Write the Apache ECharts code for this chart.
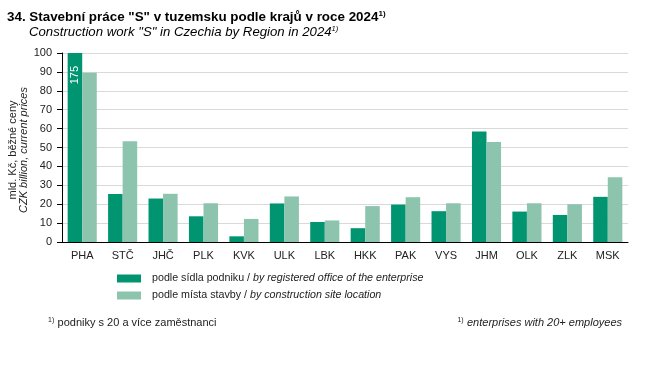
<!DOCTYPE html>
<html><head><meta charset="utf-8">
<script src="https://cdn.jsdelivr.net/npm/echarts@6/dist/echarts.min.js"></script>
<style>html,body{margin:0;padding:0;background:#fff}#c{width:652px;height:374px}</style>
</head><body><div id="c"></div>
<script>
const categories = ['PHA','STČ','JHČ','PLK','KVK','ULK','LBK','HKK','PAK','VYS','JHM','OLK','ZLK','MSK'];
const byOffice = [175, 25.4, 23.0, 13.6, 3.0, 20.4, 10.6, 7.3, 19.8, 16.3, 58.4, 16.1, 14.3, 23.9];
const bySite = [89.5, 53.3, 25.5, 20.5, 12.2, 24.1, 11.4, 19.0, 23.7, 20.5, 52.9, 20.5, 20.0, 34.3];
const yTicks = [0, 100, 10];
const F = '"Liberation Sans", Arial, sans-serif';
const dark = '#009470', light = '#8cc4ae';
const chart = echarts.init(document.getElementById('c'), null, {renderer:'canvas'});
chart.setOption({
  animation: false,
  textStyle: {fontFamily: F},
  grid: {left: 62, right: 24, top: 53, bottom: 132},
  title: [
    {left: 7, top: 10, padding: 0, text: '34. Stavební práce "S" v tuzemsku podle krajů v roce 2024{s|1)}',
     textStyle: {fontFamily: F, fontSize: 13.4, fontWeight: 'bold', color: '#000',
       rich: {s: {fontSize: 8, fontWeight: 'bold', padding: [0,0,6,0], fontFamily: F}}}},
    {left: 29, top: 25, padding: 0, text: 'Construction work "S" in Czechia by Region in 2024{s|1)}',
     textStyle: {fontFamily: F, fontSize: 13.2, fontStyle: 'italic', fontWeight: 'normal', color: '#000',
       rich: {s: {fontSize: 7.5, fontStyle: 'italic', padding: [0,0,6,0], fontFamily: F}}}}
  ],
  legend: {
    orient: 'vertical', left: 117, top: 273, padding: 0, itemWidth: 24, itemHeight: 8, itemGap: 6,
    icon: 'rect',
    textStyle: {fontFamily: F, fontSize: 10.7, color: '#222', padding: [0,0,0,6],
      rich: {i: {fontFamily: F, fontSize: 10.7, fontStyle: 'italic', color: '#222'}}},
    formatter: n => n === 'a' ? 'podle sídla podniku / {i|by registered office of the enterprise}'
                             : 'podle místa stavby / {i|by construction site location}',
    data: ['a', 'b']
  },
  xAxis: {
    type: 'category', data: categories,
    axisLine: {lineStyle: {color: '#000', width: 1}},
    axisTick: {show: false},
    axisLabel: {fontFamily: F, fontSize: 11, color: '#222', margin: 8}
  },
  yAxis: {
    type: 'value', min: yTicks[0], max: yTicks[1], interval: yTicks[2],
    axisLine: {show: true, lineStyle: {color: '#000', width: 1}},
    axisTick: {show: true, length: 5, lineStyle: {color: '#000'}},
    splitLine: {lineStyle: {color: '#d9d9d9', width: 1}},
    axisLabel: {fontFamily: F, fontSize: 11, color: '#222', margin: 10}
  },
  series: [
    {name: 'a', type: 'bar', data: byOffice, itemStyle: {color: dark}, barGap: '0%', barCategoryGap: '28%',
     clip: true,
     label: {show: true, position: 'insideTop', rotate: 90, align: 'right', verticalAlign: 'middle', distance: 13,
       color: '#fff', fontFamily: F, fontSize: 11,
       formatter: p => p.value > yTicks[1] ? String(p.value) : ''}},
    {name: 'b', type: 'bar', data: bySite, itemStyle: {color: light}, barGap: '0%', barCategoryGap: '28%'}
  ],
  graphic: [
    {type: 'text', x: 13, y: 150, rotation: Math.PI/2, style: {text: 'mld. Kč, běžné ceny', font: '11px ' + F, fill: '#222', align: 'center', verticalAlign: 'middle'}},
    {type: 'text', x: 24, y: 150, rotation: Math.PI/2, style: {text: 'CZK billion, current prices', font: 'italic 11px ' + F, fill: '#222', align: 'center', verticalAlign: 'middle'}},
    {type: 'text', x: 48, y: 323, style: {rich: {s: {fontSize: 7, fontFamily: F, padding: [0,0,5,0]}, t: {fontSize: 11, fontFamily: F}}, text: '{s|1)} {t|podniky s 20 a více zaměstnanci}', fill: '#222', verticalAlign: 'middle'}},
    {type: 'text', x: 622, y: 323, style: {rich: {s: {fontSize: 7, fontFamily: F, padding: [0,0,5,0]}, t: {fontSize: 11, fontFamily: F, fontStyle: 'italic'}}, text: '{s|1)} {t|enterprises with 20+ employees}', fill: '#222', align: 'right', verticalAlign: 'middle'}}
  ]
});
</script></body></html>
